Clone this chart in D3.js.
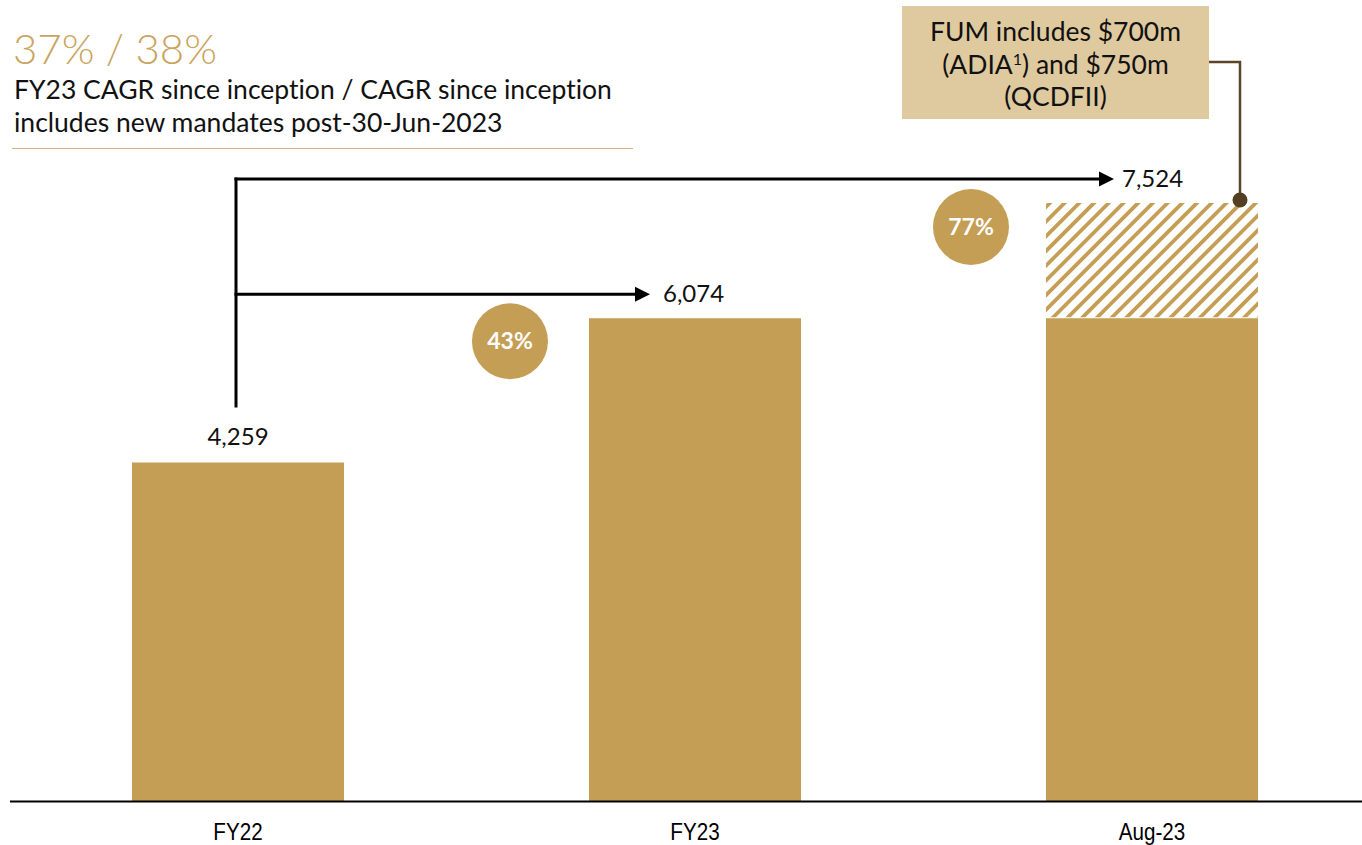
<!DOCTYPE html>
<html>
<head>
<meta charset="utf-8">
<script src="https://cdn.jsdelivr.net/npm/d3@7"></script>
<style>
  body { margin: 0; background: #fff; }
  svg { display: block; font-family: Lato, "Open Sans", sans-serif; font-variant-ligatures: none; }
</style>
</head>
<body>
<svg></svg>
<script>
const width = 1362;
const height = 845;
const gold = "#c59e55";

// data
const categories = ["FY22", "FY23", "Aug-23"];
const baseValues = [4259, 6074, 6074];
const newMandates = [0, 0, 1450];
const totalLabels = ["4,259", "6,074", "7,524"];
const growthLabels = ["43%", "77%"];

const svg = d3.select("svg")
    .attr("width", width)
    .attr("height", height);

const baseline = 801;

const xScale = d3.scaleBand()
    .domain(categories)
    .range([9.5, 1380.5])
    .paddingInner(0.536)
    .paddingOuter(0.268);

const yScale = d3.scaleLinear()
    .domain([0, 7524])
    .range([baseline, 203]);

// hatch pattern for new mandates
const defs = svg.append("defs");
defs.append("pattern")
    .attr("id", "hatch")
    .attr("patternUnits", "userSpaceOnUse")
    .attr("width", 10.4)
    .attr("height", 10.4)
    .attr("patternTransform", "rotate(45)")
    .append("rect")
    .attr("x", 0)
    .attr("y", 0)
    .attr("width", 3.8)
    .attr("height", 10.4)
    .attr("fill", gold);

// title block
svg.append("text")
    .attr("x", 13)
    .attr("y", 64)
    .attr("fill", "#c9a45e")
    .style("font-size", "42px")
    .style("font-weight", 300)
    .text("37% / 38%");

svg.append("text")
    .attr("x", 14)
    .attr("y", 99)
    .attr("fill", "#111")
    .style("font-size", "26.5px")
    .text("FY23 CAGR since inception / CAGR since inception");

svg.append("text")
    .attr("x", 14)
    .attr("y", 132)
    .attr("fill", "#111")
    .style("font-size", "26.5px")
    .text("includes new mandates post-30-Jun-2023");

svg.append("line")
    .attr("x1", 12)
    .attr("x2", 633)
    .attr("y1", 148.5)
    .attr("y2", 148.5)
    .attr("stroke", "#d2b47a")
    .attr("stroke-width", 1.2);

// bars
svg.selectAll("rect.base")
    .data(categories)
    .enter()
    .append("rect")
    .attr("class", "base")
    .attr("x", d => xScale(d))
    .attr("width", xScale.bandwidth())
    .attr("y", (d, i) => yScale(baseValues[i]))
    .attr("height", (d, i) => baseline - yScale(baseValues[i]))
    .attr("fill", gold);

svg.selectAll("rect.hatch")
    .data(categories.filter((d, i) => newMandates[i] > 0))
    .enter()
    .append("rect")
    .attr("class", "hatch")
    .attr("x", d => xScale(d))
    .attr("width", xScale.bandwidth())
    .attr("y", d => {
        const i = categories.indexOf(d);
        return yScale(baseValues[i] + newMandates[i]);
    })
    .attr("height", d => {
        const i = categories.indexOf(d);
        return yScale(baseValues[i]) - yScale(baseValues[i] + newMandates[i]) - 1;
    })
    .attr("fill", "url(#hatch)");

// axis
const xAxis = svg.append("g")
    .attr("transform", `translate(0, ${baseline})`)
    .call(d3.axisBottom(xScale).tickSize(0).tickPadding(22));
xAxis.select(".domain").remove();
xAxis.selectAll("text")
    .attr("fill", "#000")
    .attr("transform", "scale(0.86,1)")
    .style("font-family", "'Liberation Sans', Arial, sans-serif")
    .style("font-size", "24px");

svg.append("line")
    .attr("x1", 10)
    .attr("x2", width)
    .attr("y1", baseline + 0.5)
    .attr("y2", baseline + 0.5)
    .attr("stroke", "#000")
    .attr("stroke-width", 2);

// growth arrows
const startX = xScale("FY22") + xScale.bandwidth() / 2 - 2;
const arrowY = [yScale(6074) - 24, yScale(7524) - 24];
const arrowEnd = [xScale("FY23") + 61, xScale("Aug-23") + 68];

svg.append("line")
    .attr("x1", startX)
    .attr("x2", startX)
    .attr("y1", yScale(4259) - 55)
    .attr("y2", arrowY[1] - 1.5)
    .attr("stroke", "#000")
    .attr("stroke-width", 3);

arrowY.forEach((y, i) => {
    svg.append("line")
        .attr("x1", startX - 1.5)
        .attr("x2", arrowEnd[i] - 12)
        .attr("y1", y)
        .attr("y2", y)
        .attr("stroke", "#000")
        .attr("stroke-width", 3);
    svg.append("path")
        .attr("d", `M${arrowEnd[i]},${y} L${arrowEnd[i] - 15},${y - 7.5} L${arrowEnd[i] - 15},${y + 7.5} Z`)
        .attr("fill", "#000");
});

// value labels
svg.append("text")
    .attr("x", xScale("FY22") + xScale.bandwidth() / 2)
    .attr("y", yScale(4259) - 17)
    .attr("text-anchor", "middle")
    .style("font-size", "24px")
    .attr("fill", "#111")
    .text(totalLabels[0]);

svg.append("text")
    .attr("x", arrowEnd[0] + 13)
    .attr("y", arrowY[0] + 8)
    .style("font-size", "24px")
    .attr("fill", "#111")
    .text(totalLabels[1]);

svg.append("text")
    .attr("x", arrowEnd[1] + 8)
    .attr("y", arrowY[1] + 8)
    .style("font-size", "24px")
    .attr("fill", "#111")
    .text(totalLabels[2]);

// growth bubbles
const bubbles = [
    { cx: xScale("FY23") - 79, cy: arrowY[0] + 47, label: growthLabels[0] },
    { cx: xScale("Aug-23") - 75, cy: arrowY[1] + 48, label: growthLabels[1] }
];
bubbles.forEach(b => {
    svg.append("circle")
        .attr("cx", b.cx)
        .attr("cy", b.cy)
        .attr("r", 38)
        .attr("fill", gold);
    svg.append("text")
        .attr("x", b.cx)
        .attr("y", b.cy + 8)
        .attr("text-anchor", "middle")
        .attr("fill", "#fff")
        .style("font-size", "23px")
        .style("font-weight", 700)
        .text(b.label);
});

// annotation box
const boxX = 902, boxY = 6, boxW = 307, boxH = 113;
svg.append("rect")
    .attr("x", boxX)
    .attr("y", boxY)
    .attr("width", boxW)
    .attr("height", boxH)
    .attr("fill", "#dfc99e");

const note = svg.append("text")
    .attr("text-anchor", "middle")
    .attr("fill", "#111")
    .style("font-size", "26.5px");
note.append("tspan")
    .attr("x", boxX + boxW / 2)
    .attr("y", 41)
    .text("FUM includes $700m");
const l2 = note.append("tspan")
    .attr("x", boxX + boxW / 2)
    .attr("y", 74);
l2.append("tspan").text("(ADIA");
l2.append("tspan")
    .attr("dy", -9)
    .style("font-size", "16px")
    .text("1");
l2.append("tspan")
    .attr("dy", 9)
    .text(") and $750m");
note.append("tspan")
    .attr("x", boxX + boxW / 2)
    .attr("y", 106)
    .text("(QCDFII)");

const dotX = 1240;
const dotY = yScale(7524) - 3;
svg.append("path")
    .attr("d", `M${boxX + boxW},62 H${dotX} V${dotY}`)
    .attr("fill", "none")
    .attr("stroke", "#5b4428")
    .attr("stroke-width", 2.5);
svg.append("circle")
    .attr("cx", dotX)
    .attr("cy", dotY)
    .attr("r", 7.5)
    .attr("fill", "#533f22");
</script>
</body>
</html>
